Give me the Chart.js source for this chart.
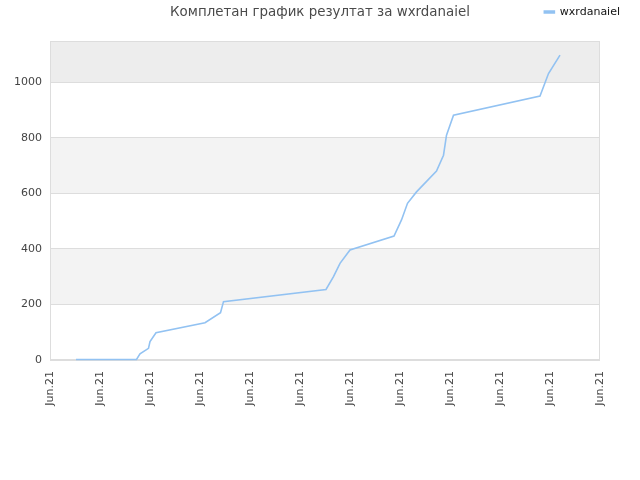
<!DOCTYPE html>
<html>
<head>
<meta charset="utf-8">
<script src="https://cdn.jsdelivr.net/npm/chart.js@4"></script>
<style>
html,body{margin:0;padding:0;background:#fff;}
#wrap{width:640px;height:480px;}
</style>
</head>
<body>
<div id="wrap"><canvas id="c" width="640" height="480"></canvas></div>
<script>
const titleText = "Комплетан график резултат за wxrdanaiel";
const seriesName = "wxrdanaiel";
const tickLabels = ["Jun.21","Jun.21","Jun.21","Jun.21","Jun.21","Jun.21","Jun.21","Jun.21","Jun.21","Jun.21","Jun.21","Jun.21"];
const timePos = [0.52,0.83,1.73,1.80,1.97,2.00,2.12,3.10,3.41,3.47,5.52,5.67,5.80,6.00,6.88,7.03,7.15,7.33,7.73,7.87,7.93,8.07,9.80,9.97,10.20];
const scores  = [2,2,2,22,42,66,98,134,170,210,254,300,348,396,446,504,564,605,680,737,809,881,950,1031,1097];

const points = timePos.map((x,i)=>({x:x,y:scores[i]}));

const bandPlugin = {
  id:'bands',
  afterLayout(chart){
    const x = chart.scales.x, a = chart.chartArea;
    const h = x.height;
    x.top = a.bottom;
    x.bottom = a.bottom + h;
  },
  beforeDraw(chart){
    const {ctx, chartArea:a, scales:{y}} = chart;
    ctx.save();
    const bands = [[200,400,'#f3f3f3'],[600,800,'#f3f3f3'],[1000,y.max,'#ededed']];
    bands.forEach(([lo,hi,c])=>{
      const top = y.getPixelForValue(hi), bot = y.getPixelForValue(lo);
      ctx.fillStyle = c;
      ctx.fillRect(a.left, top, a.right-a.left, bot-top);
    });
    ctx.restore();
  },
  beforeDatasetsDraw(chart){
    const {ctx, chartArea:a} = chart;
    ctx.save();
    ctx.strokeStyle = '#dddddd';
    ctx.lineWidth = 1;
    ctx.strokeRect(a.left+0.5, a.top+0.5, a.right-a.left-1, a.bottom-a.top-1);
    ctx.restore();
  }
};

new Chart(document.getElementById('c'), {
  type:'line',
  data:{
    datasets:[{
      label: seriesName,
      data: points,
      borderColor:'#92c2f2',
      backgroundColor:'#92c2f2',
      borderWidth:1.6,
      pointRadius:0,
      tension:0,
      fill:false,
      clip:4
    }]
  },
  options:{
    responsive:false,
    animation:false,
    devicePixelRatio:1,
    layout:{padding:{left:0,right:0,top:0,bottom:70}},
    plugins:{
      title:{
        display:true,
        text:titleText,
        color:'#4a4a4a',
        font:{family:'DejaVu Sans',size:13.4,weight:'normal'},
        padding:{top:4,bottom:-33.6}
      },
      legend:{
        display:true,
        position:'top',
        align:'end',
        labels:{
          boxWidth:10,
          boxHeight:2,
          color:'#111',
          font:{family:'DejaVu Sans',size:11},
          padding:20
        }
      },
      tooltip:{enabled:false}
    },
    scales:{
      x:{
        type:'linear',
        min:0,max:11,
        ticks:{
          stepSize:1,
          autoSkip:false,
          maxRotation:90,minRotation:90,
          color:'#444',
          font:{family:'DejaVu Sans',size:11},
          padding:11,
          callback:(v,i)=>tickLabels[i]
        },
        grid:{display:false,drawTicks:false},
        border:{display:false},
        afterFit(s){s.height=50;}
      },
      y:{
        min:0,max:1148,
        ticks:{
          stepSize:200,
          color:'#444',
          font:{family:'DejaVu Sans',size:11},
          padding:8,
          callback:(v)=>String(v)
        },
        afterBuildTicks(s){s.ticks = s.ticks.filter(t=>t.value%200===0);},
        grid:{color:'#dddddd',drawTicks:false},
        border:{display:false},
        afterFit(s){s.width=50;}
      },
      yRight:{
        position:'right',
        display:true,
        ticks:{display:false},
        grid:{display:false,drawTicks:false},
        border:{display:false},
        afterFit(s){s.width=40;}
      }
    }
  },
  plugins:[bandPlugin]
});
</script>
</body>
</html>
